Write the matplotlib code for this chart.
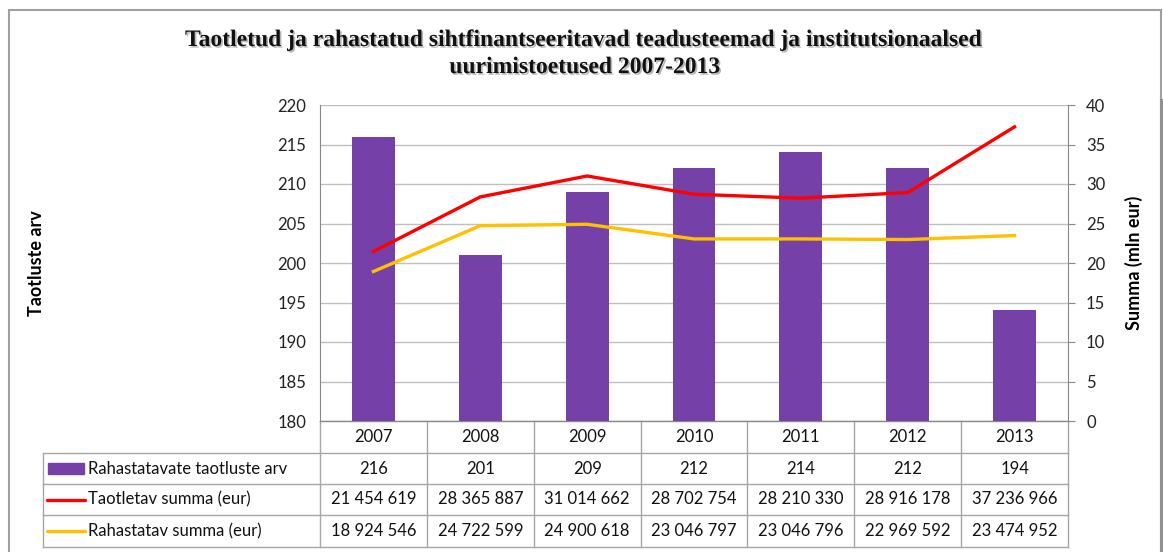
import matplotlib
matplotlib.use("Agg")
import matplotlib.pyplot as plt
import matplotlib.patheffects as pe
from matplotlib.patches import Rectangle

years = ["2007", "2008", "2009", "2010", "2011", "2012", "2013"]
funded_count = [216, 201, 209, 212, 214, 212, 194]
applied_sum = [21454619, 28365887, 31014662, 28702754, 28210330, 28916178, 37236966]
funded_sum = [18924546, 24722599, 24900618, 23046797, 23046796, 22969592, 23474952]
series_names = ["Rahastatavate taotluste arv", "Taotletav summa (eur)", "Rahastatav summa (eur)"]
title = "Taotletud ja rahastatud sihtfinantseeritavad teadusteemad ja institutsionaalsed\nuurimistoetused 2007-2013"

W, H = 1163, 552
BAR = "#7540A8"
RED = "#FF0000"
YEL = "#FFC000"
GRID = "#BFBFBF"
AX = "#888888"
FONT = "Lato"

fig = plt.figure(figsize=(W / 100, H / 100), dpi=100)

ov = fig.add_axes([0, 0, 1, 1], zorder=0)
ov.set_xlim(0, W)
ov.set_ylim(H, 0)
ov.axis("off")
ov.plot([9, 9, 1161, 1161], [H + 5, 10, 10, H + 5], color="#A0A0A0", lw=1.5, solid_joinstyle="miter")
ov.plot([1161, 1161], [100, H + 5], color="#909090", lw=2.2)

x0, x1 = 320, 1068
y0, y1 = 105, 421
ax = fig.add_axes([x0 / W, 1 - y1 / H, (x1 - x0) / W, (y1 - y0) / H], zorder=2)
ax.patch.set_alpha(0)
n = len(years)
xs = list(range(n))
ax.bar(xs, [v - 180 for v in funded_count], bottom=180, width=0.4, color=BAR, zorder=3)
ax.set_xlim(-0.5, n - 0.5)
ax.set_ylim(180, 220)
ax.set_yticks(range(180, 221, 5))
ax.yaxis.grid(True, color=GRID, lw=1, zorder=0)
ax.set_xticks([])
for s in ["top", "bottom"]:
    ax.spines[s].set_visible(False)
ax.spines["left"].set_color(AX)
ax.spines["right"].set_visible(False)
ax.tick_params(axis="y", length=0, labelsize=12, labelcolor="#222222", pad=10)
for t in ax.get_yticklabels():
    t.set_fontfamily(FONT)
ax.set_ylabel("Taotluste arv", fontsize=13, fontweight="bold", fontfamily=FONT)
ax.yaxis.set_label_coords(-(x0 - 45) / (x1 - x0), 0.5)

ax2 = ax.twinx()
ax2.plot(xs, [v / 1e6 for v in applied_sum], color=RED, lw=2.4, zorder=4)
ax2.plot(xs, [v / 1e6 for v in funded_sum], color=YEL, lw=2.4, zorder=4)
ax2.set_ylim(0, 40)
ax2.set_yticks(range(0, 41, 5))
for s in ["top", "bottom", "left"]:
    ax2.spines[s].set_visible(False)
ax2.spines["right"].set_color(AX)
ax2.tick_params(axis="y", length=5, color=AX, labelsize=12, labelcolor="#222222", pad=8)
for t in ax2.get_yticklabels():
    t.set_fontfamily(FONT)
ax2.set_ylabel("Summa (mln eur)", fontsize=13, fontweight="bold", fontfamily=FONT)
ax2.yaxis.set_label_coords(1 + (1125 - x1) / (x1 - x0), 0.5)

fig.text(585 / W, 1 - 54 / H, title, ha="center", va="center", fontsize=17,
         fontweight="bold", fontfamily="Liberation Serif", linespacing=1.38, color="#111111",
         path_effects=[pe.withSimplePatchShadow(offset=(1.2, -1.2), shadow_rgbFace="#999999", alpha=0.7)])

colw = (x1 - x0) / n
col_x = [x0 + colw * i for i in range(n + 1)]
tl = 43
rows_y = [421, 453, 484, 515, 547]
lc = "#A6A6A6"
for cx in col_x:
    ov.plot([cx, cx], [rows_y[0], rows_y[-1]], color=lc, lw=1)
ov.plot([tl, tl], [rows_y[1], rows_y[-1]], color=lc, lw=1)
ov.plot([x0, x1], [rows_y[0], rows_y[0]], color=AX, lw=1)
for ry in rows_y[1:]:
    ov.plot([tl, x1], [ry, ry], color=lc, lw=1)

def fmt(v):
    return f"{v:,}".replace(",", " ")

tkw = dict(fontsize=12, fontfamily=FONT, color="#111111", ha="center", va="center")
for i in range(n):
    cx = col_x[i] + colw / 2
    ov.text(cx, (rows_y[0] + rows_y[1]) / 2, years[i], **tkw)
    ov.text(cx, (rows_y[1] + rows_y[2]) / 2, str(funded_count[i]), **tkw)
    ov.text(cx, (rows_y[2] + rows_y[3]) / 2, fmt(applied_sum[i]), **tkw)
    ov.text(cx, (rows_y[3] + rows_y[4]) / 2, fmt(funded_sum[i]), **tkw)

for r, name in enumerate(series_names):
    ym = (rows_y[r + 1] + rows_y[r + 2]) / 2
    if r == 0:
        ov.add_patch(Rectangle((48, ym - 5.5), 36, 11, color=BAR))
    else:
        ov.plot([47, 85], [ym, ym], color=[RED, YEL][r - 1], lw=2.4, solid_capstyle="round")
    ov.text(88, ym, name, fontsize=12, fontfamily=FONT, color="#111111", ha="left", va="center")

fig.savefig("out.png", dpi=100)
